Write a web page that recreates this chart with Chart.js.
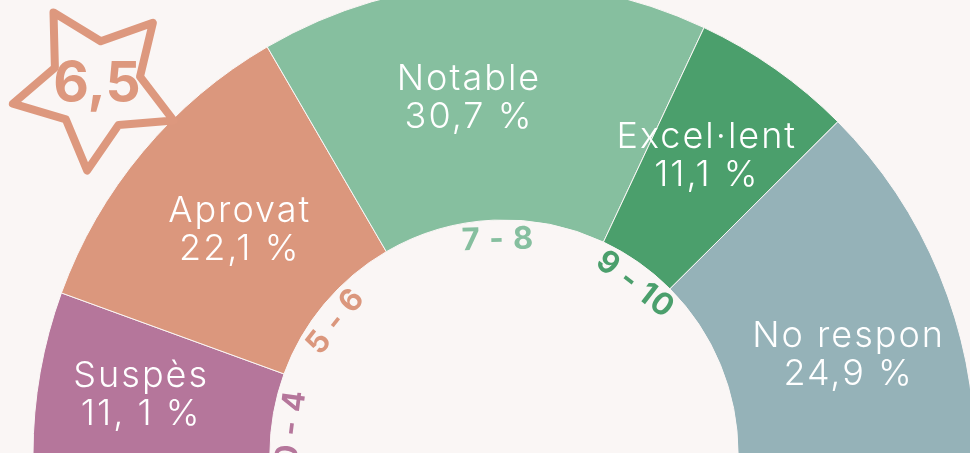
<!DOCTYPE html>
<html>
<head>
<meta charset="utf-8">
<script src="https://cdn.jsdelivr.net/npm/chart.js@4/dist/chart.umd.min.js"></script>
<style>
  html, body { margin: 0; padding: 0; background: #faf6f5; overflow: hidden; }
  #grades { display: block; }
</style>
</head>
<body>
<canvas id="grades" width="970" height="453"></canvas>
<script>
'use strict';

const categories = ['Suspès', 'Aprovat', 'Notable', 'Excel·lent', 'No respon'];
const percentages = [11.1, 22.1, 30.7, 11.1, 24.9];
const percentLabels = ['11, 1 %', '22,1 %', '30,7 %', '11,1 %', '24,9 %'];
const gradeRanges = ['0 - 4', '5 - 6', '7 - 8', '9 - 10', ''];
const averageGrade = '6,5';

const colors = ['#b5769b', '#db977d', '#86bf9f', '#4b9f6c', '#95b2b8'];
const bgColor = '#faf6f5';
const textFont = 'Inter, "Open Sans", sans-serif';

// small hand nudges (degrees, pixels) so labels sit where the original put them
const labelNudge = [[-0.8, 15], [0.4, -6], [-3.1, 5], [-0.9, 8], [6.4, 6]];
const rangeNudge = [-3, -1.7, 0.9, 2.6, 0];

const deg = Math.PI / 180;

const segmentLabels = {
  id: 'segmentLabels',
  afterDatasetsDraw(chart) {
    const ctx = chart.ctx;
    const arcs = chart.getDatasetMeta(0).data;
    ctx.save();
    arcs.forEach((arc, i) => {
      const p = arc.getProps(['x', 'y', 'startAngle', 'endAngle', 'innerRadius', 'outerRadius']);
      const mid = (p.startAngle + p.endAngle) / 2;

      // name + percentage inside the ring
      const a = mid + labelNudge[i][0] * deg;
      const r = (p.innerRadius + p.outerRadius) / 2 + labelNudge[i][1];
      const lx = p.x + Math.cos(a) * r;
      const ly = p.y + Math.sin(a) * r;
      ctx.fillStyle = '#ffffff';
      ctx.textAlign = 'center';
      ctx.textBaseline = 'middle';
      ctx.font = '300 36px ' + textFont;
      ctx.letterSpacing = '2px';
      ctx.fillText(categories[i], lx, ly - 19);
      ctx.fillText(percentLabels[i], lx, ly + 19);

      // grade range along the inner edge
      if (gradeRanges[i]) {
        const b = mid + rangeNudge[i] * deg;
        const rr = p.innerRadius - 20;
        ctx.save();
        ctx.translate(p.x + Math.cos(b) * rr, p.y + Math.sin(b) * rr);
        ctx.rotate(b + Math.PI / 2);
        ctx.fillStyle = colors[i];
        ctx.font = 'bold 31px ' + textFont;
        ctx.letterSpacing = '1px';
        ctx.fillText(gradeRanges[i], 0, 0);
        ctx.restore();
      }
    });
    ctx.restore();
  },
  afterDraw(chart) {
    // star badge with the average grade
    const ctx = chart.ctx;
    const cx = 96, cy = 86;
    ctx.save();
    ctx.beginPath();
    for (let k = 0; k < 10; k++) {
      const ang = (-120 + k * 36) * deg;
      const rad = k % 2 === 0 ? 85 : 45;
      const px = cx + Math.cos(ang) * rad;
      const py = cy + Math.sin(ang) * rad;
      if (k === 0) ctx.moveTo(px, py); else ctx.lineTo(px, py);
    }
    ctx.closePath();
    ctx.lineJoin = 'round';
    ctx.lineWidth = 8;
    ctx.strokeStyle = '#dd987e';
    ctx.stroke();
    ctx.fillStyle = '#dd987e';
    ctx.font = 'bold 55px ' + textFont;
    ctx.textAlign = 'center';
    ctx.textBaseline = 'middle';
    ctx.fillText(averageGrade, 97, 84);
    ctx.restore();
  }
};

new Chart(document.getElementById('grades'), {
  type: 'doughnut',
  data: {
    labels: categories,
    datasets: [{
      data: percentages,
      backgroundColor: colors,
      borderColor: bgColor,
      borderWidth: 1
    }]
  },
  options: {
    responsive: false,
    animation: false,
    rotation: -90,
    circumference: 180,
    radius: 471,
    cutout: '49.7%',
    clip: false,
    layout: { padding: { left: 38, right: 0, top: 0, bottom: 16 } },
    plugins: {
      legend: { display: false },
      tooltip: { enabled: false }
    }
  },
  plugins: [segmentLabels]
});
</script>
</body>
</html>
